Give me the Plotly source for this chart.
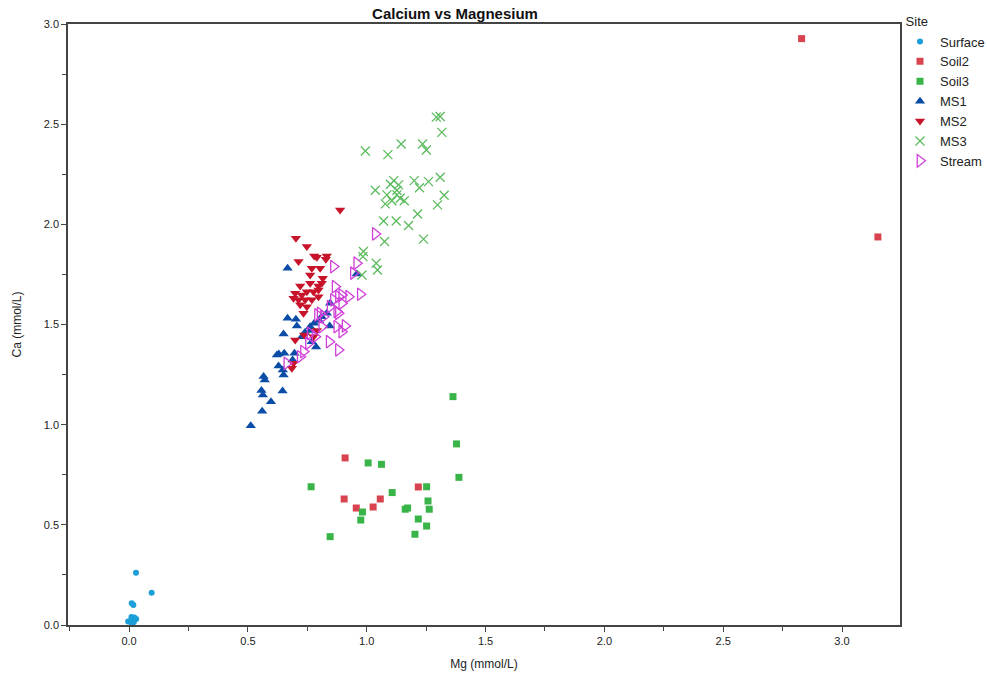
import plotly.graph_objects as go

# ---------------- data ----------------
surface_mg = [0.029, 0.095, 0.011, 0.018, 0.010, 0.022, 0.030, 0.015, 0.005, 0.020, -0.004, 0.012]
surface_ca = [0.261, 0.161, 0.108, 0.100, 0.040, 0.038, 0.030, 0.025, 0.020, 0.015, 0.017, 0.005]

soil2_mg = [2.830, 3.151, 0.909, 0.905, 0.956, 1.027, 1.057, 1.217]
soil2_ca = [2.927, 1.937, 0.834, 0.629, 0.584, 0.589, 0.629, 0.689]

soil3_mg = [1.363, 1.378, 1.388, 1.006, 1.062, 0.766, 1.107, 1.252, 1.258, 1.263,
            1.162, 1.172, 0.982, 0.975, 1.217, 1.252, 1.203, 0.846]
soil3_ca = [1.140, 0.904, 0.737, 0.809, 0.802, 0.690, 0.661, 0.690, 0.619, 0.578,
            0.578, 0.584, 0.564, 0.524, 0.529, 0.494, 0.453, 0.441]

ms1_mg = [0.667, 0.512, 0.560, 0.597, 0.646, 0.557, 0.563, 0.571, 0.566, 0.650,
          0.647, 0.629, 0.630, 0.653, 0.622, 0.696, 0.688, 0.650, 0.667, 0.702,
          0.706, 0.727, 0.762, 0.769, 0.844, 0.832, 0.846, 0.810, 0.779, 0.958,
          0.787, 0.740, 0.800, 0.760]
ms1_ca = [1.781, 0.994, 1.067, 1.115, 1.168, 1.170, 1.148, 1.223, 1.240, 1.248,
          1.273, 1.293, 1.353, 1.356, 1.348, 1.356, 1.323, 1.453, 1.531, 1.526,
          1.493, 1.439, 1.489, 1.414, 1.493, 1.556, 1.606, 1.539, 1.506, 1.752,
          1.388, 1.460, 1.520, 1.470]

ms2_mg = [0.888, 0.702, 0.748, 0.713, 0.779, 0.790, 0.832, 0.828, 0.769, 0.804,
          0.762, 0.815, 0.720, 0.762, 0.797, 0.699, 0.727, 0.748, 0.776, 0.797,
          0.692, 0.713, 0.741, 0.769, 0.720, 0.748, 0.734, 0.699, 0.737, 0.776,
          0.685, 0.692, 0.797, 0.811, 0.790]
ms2_ca = [2.072, 1.931, 1.889, 1.814, 1.842, 1.836, 1.842, 1.826, 1.781, 1.781,
          1.747, 1.731, 1.692, 1.706, 1.692, 1.656, 1.647, 1.664, 1.664, 1.639,
          1.631, 1.623, 1.623, 1.623, 1.598, 1.589, 1.556, 1.423, 1.448, 1.439,
          1.282, 1.306, 1.672, 1.706, 1.470]

ms3_mg = [1.293, 1.309, 1.316, 0.994, 1.089, 1.145, 1.235, 1.251, 1.114, 1.134,
          1.200, 1.222, 1.260, 1.309, 1.326, 1.298, 1.036, 1.085, 1.127, 1.078,
          1.106, 1.141, 1.158, 1.071, 1.124, 1.176, 1.214, 1.075, 1.239, 0.986,
          0.984, 1.040, 1.045, 0.980, 1.127, 1.100]
ms3_ca = [2.535, 2.538, 2.459, 2.366, 2.348, 2.401, 2.401, 2.371, 2.218, 2.197,
          2.218, 2.183, 2.213, 2.235, 2.145, 2.097, 2.170, 2.147, 2.147, 2.102,
          2.118, 2.130, 2.118, 2.017, 2.017, 1.994, 2.052, 1.914, 1.926, 1.864,
          1.839, 1.806, 1.772, 1.747, 2.170, 2.200]

stream_mg = [1.036, 0.958, 0.944, 0.860, 0.867, 0.973, 0.895, 0.924, 0.881, 0.860,
             0.895, 0.846, 0.874, 0.804, 0.881, 0.818, 0.874, 0.909, 0.895, 0.811,
             0.762, 0.783, 0.842, 0.881, 0.755, 0.734, 0.720, 0.664, 0.793]
stream_ca = [1.952, 1.806, 1.756, 1.789, 1.689, 1.651, 1.647, 1.639, 1.639, 1.623,
             1.606, 1.589, 1.565, 1.556, 1.556, 1.539, 1.489, 1.493, 1.464, 1.489,
             1.456, 1.439, 1.414, 1.373, 1.406, 1.365, 1.339, 1.306, 1.548]

x_ticks = [0.0, 0.5, 1.0, 1.5, 2.0, 2.5, 3.0]
y_ticks = [0.0, 0.5, 1.0, 1.5, 2.0, 2.5, 3.0]

# ---------------- figure ----------------
series = [
    ("Surface", surface_mg, surface_ca, dict(symbol="circle", size=6, color="#1C9FD9")),
    ("Soil2", soil2_mg, soil2_ca, dict(symbol="square", size=7, color="#D8434F")),
    ("Soil3", soil3_mg, soil3_ca, dict(symbol="square", size=7, color="#38B448")),
    ("MS1", ms1_mg, ms1_ca, dict(symbol="triangle-up", size=9, color="#0B4DA6")),
    ("MS2", ms2_mg, ms2_ca, dict(symbol="triangle-down", size=9, color="#C8142B")),
    ("MS3", ms3_mg, ms3_ca, dict(symbol="x-thin", size=9, color="#5CBB5E",
                                 line=dict(color="#5CBB5E", width=1.3))),
    ("Stream", stream_mg, stream_ca, dict(symbol="triangle-right-open", size=11,
                                          color="#D040D8",
                                          line=dict(color="#D040D8", width=1.3))),
]

fig = go.Figure()
for name, xs, ys, mk in series:
    fig.add_trace(go.Scatter(x=xs, y=ys, mode="markers", name=name, marker=mk))

axis_font = dict(family="Liberation Sans, Arial, sans-serif", size=11, color="#222")

fig.update_layout(
    width=987, height=673,
    margin=dict(l=68, r=87, t=24, b=48, autoexpand=False),
    paper_bgcolor="white", plot_bgcolor="white",
    font=dict(family="Liberation Sans, Arial, sans-serif", size=12, color="#222"),
    title=dict(text="<b>Calcium vs Magnesium</b>", x=455 / 987, xanchor="center",
               xref="container", y=1 - 14 / 673, yref="container", yanchor="middle",
               font=dict(size=15, color="#111")),
    showlegend=True,
    legend=dict(title=dict(text="\u00a0Site", font=dict(size=13)), x=1.0, xanchor="left",
                y=1.024, yanchor="top", font=dict(size=13, color="#222"),
                tracegroupgap=0, itemsizing="trace", itemwidth=30,
                bgcolor="rgba(0,0,0,0)"),
)

fig.update_xaxes(
    range=[-0.257, 3.244], tickvals=x_ticks, tickformat=".1f",
    showgrid=False, zeroline=False, showline=True, linecolor="#444", linewidth=1.5,
    mirror=True, ticks="outside", ticklen=5, tickcolor="#444", tickfont=axis_font,
    minor=dict(tick0=0, dtick=0.25, ticks="outside", ticklen=4, tickcolor="#444"),
    title=dict(text="Mg (mmol/L)", font=dict(size=12, color="#222"), standoff=14),
)
fig.update_yaxes(
    range=[0, 3.0], tickvals=y_ticks, tickformat=".1f",
    showgrid=False, zeroline=False, showline=True, linecolor="#444", linewidth=1.5,
    mirror=True, ticks="outside", ticklen=5, tickcolor="#444", tickfont=axis_font,
    minor=dict(tick0=0, dtick=0.25, ticks="outside", ticklen=4, tickcolor="#444"),
    title=dict(text="Ca (mmol/L)", font=dict(size=12, color="#222"), standoff=20),
)

fig.write_html("out.html")
